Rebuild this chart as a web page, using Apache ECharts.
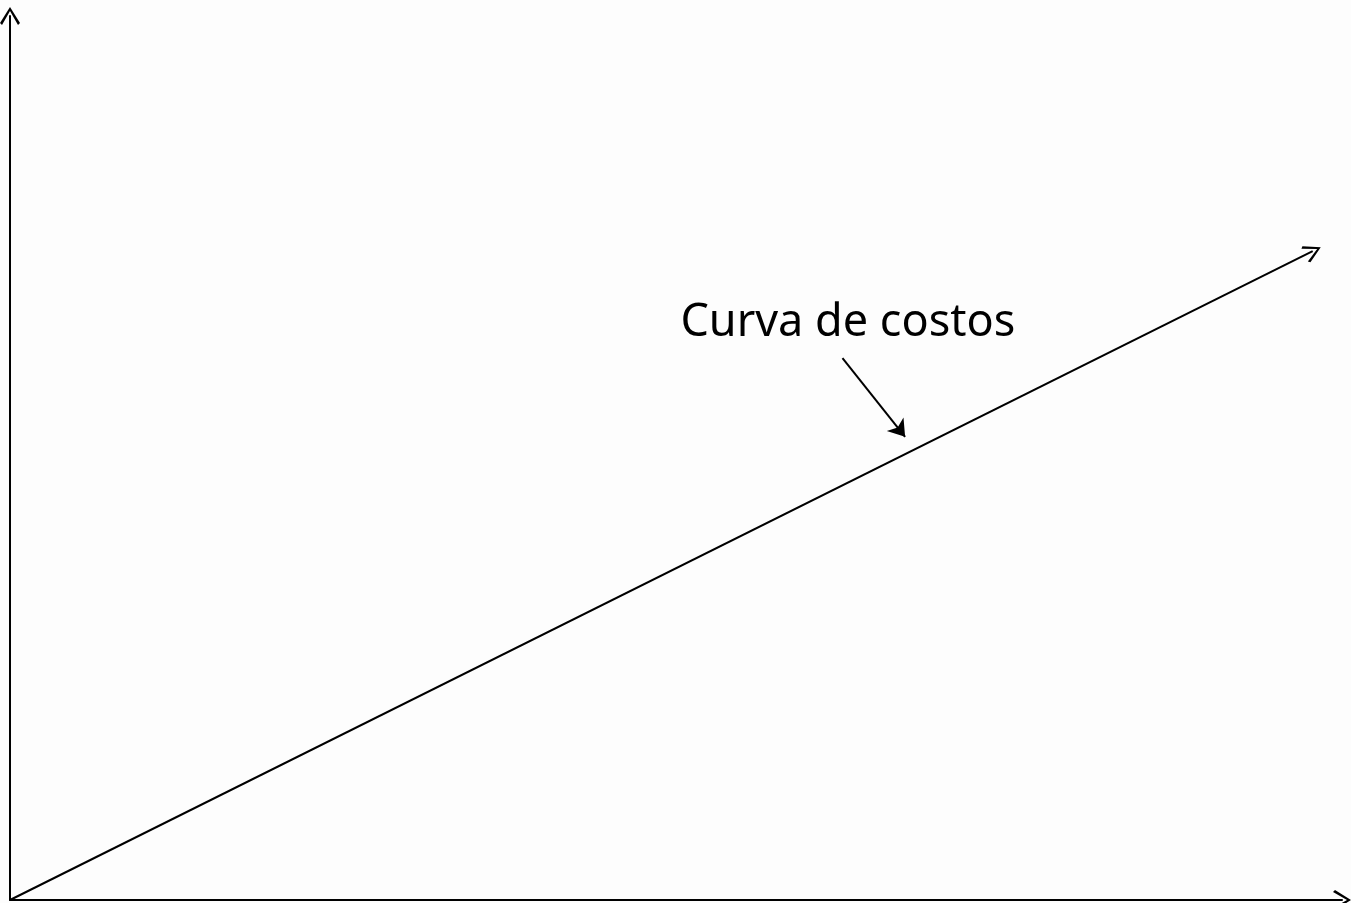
<!DOCTYPE html>
<html>
<head>
<meta charset="utf-8">
<script src="https://cdn.jsdelivr.net/npm/echarts@6/dist/echarts.min.js"></script>
<style>
  html, body { margin: 0; padding: 0; background: #fdfdfd; }
  #chart { width: 1351px; height: 903px; }
</style>
</head>
<body>
<div id="chart"></div>
<script>
// cost curve: start and end (axis units, 0..100)
const curveX = [0, 97.8]
const curveY = [0, 73.4]
// annotation arrow, from label down to curve
const pointerX = [62.5, 67.2]
const pointerY = [61.3, 52.4]
const labelText = 'Curva de costos'
const labelPos = [62.9, 65.2]

const openArrow = 'path://M10,0 L20,16 L18,18 L10,4 L2,18 L0,16 Z'

const chart = echarts.init(document.getElementById('chart'))
chart.setOption({
  backgroundColor: '#fdfdfd',
  animation: false,
  grid: { left: 10, right: 9, top: 16, bottom: 3 },
  xAxis: {
    type: 'value',
    min: 0,
    max: 100,
    axisLine: {
      show: true,
      symbol: ['none', openArrow],
      symbolSize: [20, 18],
      lineStyle: { color: '#000', width: 2 }
    },
    axisTick: { show: false },
    axisLabel: { show: false },
    splitLine: { show: false }
  },
  yAxis: {
    type: 'value',
    min: 0,
    max: 100,
    axisLine: {
      show: true,
      symbol: ['none', openArrow],
      symbolSize: [20, 18],
      lineStyle: { color: '#000', width: 2 }
    },
    axisTick: { show: false },
    axisLabel: { show: false },
    splitLine: { show: false }
  },
  series: [
    {
      type: 'lines',
      coordinateSystem: 'cartesian2d',
      symbol: ['none', openArrow],
      symbolSize: [20, 18],
      lineStyle: { color: '#000', width: 2, opacity: 1 },
      data: [{ coords: [[curveX[0], curveY[0]], [curveX[1], curveY[1]]] }]
    },
    {
      type: 'lines',
      coordinateSystem: 'cartesian2d',
      symbol: ['none', 'arrow'],
      symbolSize: [14, 16],
      lineStyle: { color: '#000', width: 2, opacity: 1 },
      data: [{ coords: [[pointerX[0], pointerY[0]], [pointerX[1], pointerY[1]]] }]
    },
    {
      type: 'scatter',
      symbolSize: 0,
      silent: true,
      label: {
        show: true,
        formatter: labelText,
        position: 'inside',
        color: '#000',
        opacity: 1,
        fontFamily: 'Noto Sans',
        fontSize: 45
      },
      data: [labelPos]
    }
  ]
})
</script>
</body>
</html>
